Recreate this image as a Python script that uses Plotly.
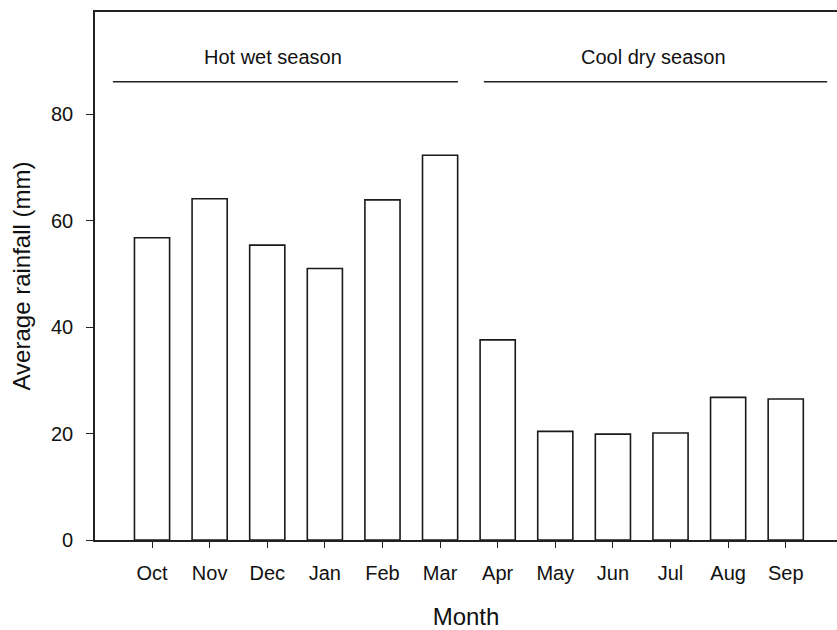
import plotly.graph_objects as go

months = ["Oct", "Nov", "Dec", "Jan", "Feb", "Mar", "Apr", "May", "Jun", "Jul", "Aug", "Sep"]
rainfall = [56.8, 64.1, 55.4, 51.0, 63.9, 72.3, 37.6, 20.4, 19.9, 20.1, 26.8, 26.5]
y_ticks = [0, 20, 40, 60, 80]

season_names = ["Hot wet season", "Cool dry season"]
season_start = [-0.68, 5.76]
season_end = [5.31, 11.72]
season_label_x = [2.1, 8.71]

FONT = "Liberation Sans, Arial, sans-serif"

fig = go.Figure()
fig.add_trace(go.Bar(
    x=list(range(len(months))),
    y=rainfall,
    width=0.61,
    marker=dict(color="white", line=dict(color="#1a1a1a", width=1.6)),
    showlegend=False,
))

for name, x0, x1, xl in zip(season_names, season_start, season_end, season_label_x):
    fig.add_shape(type="line", x0=x0, x1=x1, y0=86.1, y1=86.1,
                  xref="x", yref="y", line=dict(color="#222", width=1.6))
    fig.add_annotation(x=xl, y=90.8, text=name, showarrow=False,
                       xref="x", yref="y", font=dict(size=20, color="#111", family=FONT))

fig.update_xaxes(
    tickmode="array",
    tickvals=list(range(len(months))),
    ticktext=months,
    range=[-0.99, 11.89],
    showline=True, linecolor="#222", linewidth=1.6, mirror=True,
    ticks="outside", ticklen=6, tickwidth=1.2, tickcolor="#222",
    ticklabelstandoff=8,
    showgrid=False, zeroline=False,
    tickfont=dict(size=20, color="#111", family=FONT),
    title=dict(text="Month", font=dict(size=24, color="#111", family=FONT), standoff=26),
)
fig.update_yaxes(
    tickmode="array",
    tickvals=y_ticks,
    range=[0, 99.2],
    showline=True, linecolor="#222", linewidth=1.6,
    ticks="outside", ticklen=7, tickwidth=1.2, tickcolor="#222",
    ticklabelstandoff=9,
    showgrid=False, zeroline=False,
    tickfont=dict(size=20, color="#111", family=FONT),
    title=dict(text="Average rainfall (mm)", font=dict(size=24, color="#111", family=FONT), standoff=14),
)

fig.update_layout(
    width=837, height=630,
    margin=dict(l=95, r=0, t=12, b=90, autoexpand=False),
    plot_bgcolor="white", paper_bgcolor="white",
    bargap=0.39,
)

fig.write_html(
    "out.html",
    config={"displayModeBar": False},
    post_script="document.body.style.margin='0';document.body.style.overflow='hidden';",
)
